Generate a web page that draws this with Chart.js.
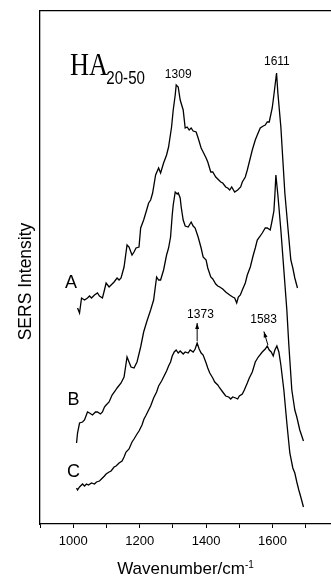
<!DOCTYPE html>
<html>
<head>
<meta charset="utf-8">
<script src="https://cdn.jsdelivr.net/npm/chart.js@4.4.1/dist/chart.umd.min.js"></script>
<style>
html, body { margin: 0; padding: 0; background: #fff; overflow: hidden; width: 331px; height: 577px; }
canvas { display: block; }
</style>
</head>
<body>
<canvas id="myChart" width="345" height="577"></canvas>
<script>
// spectrum A (top)
var waveA = [1013,1019,1025,1034,1043,1049,1055,1064,1073,1079,1088,1094,1099,1108,1114,1123,1132,1138,1144,1153,
	1162,1168,1177,1183,1189,1198,1203,1212,1221,1227,1233,1239,1248,1257,1263,1272,1281,1287,1296,1301,
	1307,1310,1316,1322,1331,1337,1343,1349,1355,1361,1370,1376,1385,1391,1400,1405,1414,1420,1429,1435,
	1444,1450,1459,1465,1471,1477,1486,1495,1504,1509,1518,1524,1530,1539,1548,1554,1563,1572,1578,1584,
	1590,1599,1604,1612,1616,1625,1631,1637,1646,1655,1661,1667,1675];
var intA = [43.2,42.2,45.2,44.8,45.2,45.6,45.2,45.8,46.2,45.6,45.2,46.8,48.2,47.4,47.8,48.4,49.2,48.8,49.2,51.4,
	55.8,55.4,53.8,54.4,55.2,55.4,59.2,60.8,62.8,64.2,64.8,66.2,69.8,71.2,70.2,72.2,73.8,75.4,79.4,82.8,
	85.8,87.8,87.4,84.8,82.8,79.2,79.4,78.8,79.2,78.6,78.4,77.2,75.2,74.4,73.2,72.4,70.4,70.4,69.4,69.0,
	68.4,68.2,67.4,67.2,66.8,67.4,66.4,66.8,67.4,68.4,69.4,70.8,72.4,74.8,76.8,77.8,79.2,79.6,79.8,80.4,
	80.4,83.2,85.8,90.2,86.2,79.4,72.8,66.2,59.4,52.8,51.2,49.2,47.2];

// spectrum B (middle)
var waveB = [1010,1013,1019,1028,1034,1043,1049,1058,1067,1073,1082,1088,1094,1099,1108,1117,1126,1132,1144,1153,
	1162,1168,1174,1183,1192,1203,1212,1221,1233,1242,1251,1257,1263,1272,1281,1287,1293,1298,1301,1307,
	1313,1316,1322,1325,1331,1337,1346,1355,1361,1367,1376,1385,1391,1400,1405,1414,1420,1429,1435,1441,
	1450,1459,1471,1480,1486,1492,1497,1503,1509,1518,1524,1533,1542,1548,1554,1563,1569,1578,1584,1593,
	1599,1604,1607,1610,1616,1625,1634,1643,1649,1658,1667,1673,1682,1693];
var intB = [16.2,18.2,20.2,20.4,20.8,22.4,22.2,21.8,22.4,22.4,22.0,22.4,23.4,23.8,24.4,25.8,26.6,27.2,28.2,29.4,
	33.4,32.4,31.4,31.2,32.4,35.4,38.4,40.4,42.8,44.8,49.4,48.8,48.8,50.8,53.8,55.2,57.4,61.8,63.8,66.4,
	66.0,66.2,65.2,63.4,60.8,59.6,59.4,60.4,59.6,59.2,57.4,55.2,53.4,52.8,51.2,49.4,49.0,48.0,47.6,47.4,
	47.0,46.4,45.8,45.4,45.2,44.2,45.4,45.8,46.8,48.2,49.8,51.4,53.8,55.2,56.8,57.6,58.2,59.2,59.2,58.8,
	60.8,62.6,65.8,69.8,65.8,58.8,50.8,42.8,35.8,26.8,22.8,21.4,18.8,16.6];

// spectrum C (bottom)
var waveC = [1010,1013,1019,1028,1034,1040,1046,1055,1064,1070,1079,1085,1094,1099,1108,1114,1123,1129,1138,1147,
	1153,1159,1168,1177,1183,1192,1198,1207,1213,1218,1227,1233,1242,1251,1257,1266,1272,1281,1287,1293,
	1298,1304,1310,1316,1322,1331,1337,1346,1352,1361,1367,1373,1379,1385,1391,1400,1405,1411,1420,1426,
	1435,1441,1450,1459,1468,1474,1480,1489,1495,1500,1509,1515,1524,1530,1539,1548,1557,1569,1578,1584,
	1590,1596,1602,1607,1613,1619,1625,1634,1643,1652,1661,1667,1673,1679,1685,1693];
var intC = [7.2,6.8,7.4,8.0,7.6,8.0,7.8,8.2,8.0,8.4,8.6,9.0,9.6,10.0,10.4,10.6,11.4,11.6,12.2,12.6,
	13.4,14.4,15.0,16.4,17.0,18.0,18.6,19.8,21.0,21.6,22.8,23.6,25.2,26.4,27.6,28.6,29.4,30.6,31.6,32.4,
	33.6,34.4,34.8,34.2,34.6,34.0,34.4,34.2,34.8,34.4,35.0,36.2,35.0,34.2,33.8,32.2,31.2,30.2,29.2,28.4,
	27.8,27.2,26.4,25.6,25.4,25.0,25.4,25.2,25.0,25.6,26.0,26.8,28.2,29.2,30.4,32.4,33.4,34.4,35.0,35.6,
	34.8,34.4,33.6,34.8,35.6,34.4,31.8,26.8,20.2,14.2,11.2,10.2,8.4,6.8,5.4,3.4];

// axis range and tick labels
var xMin = 900, xMax = 1800, xStep = 100;
var xLabels = [1000, 1200, 1400, 1600];
var yMin = 0, yMax = 102.6;

// text placed in data units
var peakText = ['1309', '1611', '1373', '1583'];
var peakX = [1316, 1613, 1383, 1573];
var peakY = [89.8, 92.4, 41.8, 40.8];
var arrowFromX = [1373, 1586], arrowFromY = [36.6, 35.8];
var arrowToX = [1373, 1574], arrowToY = [40.2, 38.5];
var curveText = ['A', 'B', 'C'];
var curveX = [993, 1001, 1001];
var curveY = [48.2, 24.8, 10.4];

var SANS = '"Liberation Sans", Arial, sans-serif';

function toPoints(xs, ys) {
	var pts = [];
	for (var i = 0; i < Math.min(xs.length, ys.length); i++) {
		pts.push({ x: xs[i], y: ys[i] });
	}
	return pts;
}

function lineSet(label, xs, ys) {
	return {
		label: label,
		data: toPoints(xs, ys),
		borderColor: '#000',
		borderWidth: 1.3,
		pointRadius: 0,
		fill: false,
		tension: 0
	};
}

var overlay = {
	id: 'overlay',
	afterDraw: function(chart) {
		var c = chart.ctx;
		var sx = chart.scales.x, sy = chart.scales.y;
		var area = chart.chartArea;
		var i;
		c.save();
		c.fillStyle = '#000';
		c.strokeStyle = '#000';

		// peak numbers
		c.font = '12px ' + SANS;
		c.textAlign = 'center';
		c.textBaseline = 'middle';
		for (i = 0; i < peakText.length; i++) {
			c.fillText(peakText[i], sx.getPixelForValue(peakX[i]), sy.getPixelForValue(peakY[i]));
		}

		// arrows
		c.lineWidth = 1;
		for (i = 0; i < arrowFromX.length; i++) {
			var x0 = sx.getPixelForValue(arrowFromX[i]), y0 = sy.getPixelForValue(arrowFromY[i]);
			var x1 = sx.getPixelForValue(arrowToX[i]), y1 = sy.getPixelForValue(arrowToY[i]);
			var a = Math.atan2(y1 - y0, x1 - x0);
			c.beginPath();
			c.moveTo(x0, y0);
			c.lineTo(x1, y1);
			c.stroke();
			c.beginPath();
			c.moveTo(x1, y1);
			c.lineTo(x1 - 6 * Math.cos(a) + 2 * Math.sin(a), y1 - 6 * Math.sin(a) - 2 * Math.cos(a));
			c.lineTo(x1 - 6 * Math.cos(a) - 2 * Math.sin(a), y1 - 6 * Math.sin(a) + 2 * Math.cos(a));
			c.closePath();
			c.fill();
		}

		// A, B, C
		c.font = '18px ' + SANS;
		for (i = 0; i < curveText.length; i++) {
			c.fillText(curveText[i], sx.getPixelForValue(curveX[i]), sy.getPixelForValue(curveY[i]));
		}

		// HA20-50
		c.textAlign = 'left';
		c.textBaseline = 'alphabetic';
		var hx = sx.getPixelForValue(990), hy = sy.getPixelForValue(89.8);
		c.save();
		c.translate(hx, hy);
		c.scale(0.85, 1);
		c.font = '31px "Liberation Serif", "Times New Roman", serif';
		c.fillText('HA', 0, 0);
		c.restore();
		var bx = sx.getPixelForValue(1099.5), by = sy.getPixelForValue(88);
		c.save();
		c.translate(bx, by);
		c.scale(0.84, 1);
		c.font = '18px ' + SANS;
		c.fillText('20-50', 0, 0);
		c.restore();

		// x axis title
		c.font = '17px ' + SANS;
		var main = 'Wavenumber/cm';
		var w1 = c.measureText(main).width;
		c.font = '10px ' + SANS;
		var w2 = c.measureText('-1').width;
		var tx = (area.left + area.right) / 2 - 4 - (w1 + w2) / 2;
		c.font = '17px ' + SANS;
		c.fillText(main, tx, 574);
		c.font = '10px ' + SANS;
		c.fillText('-1', tx + w1, 568);

		// y axis title
		c.save();
		c.translate(26, (area.top + area.bottom) / 2 + 14);
		c.rotate(-Math.PI / 2);
		c.textAlign = 'center';
		c.textBaseline = 'middle';
		c.font = '17.5px ' + SANS;
		c.fillText('SERS Intensity', 0, 0);
		c.restore();

		c.restore();
	}
};

var ctx = document.getElementById('myChart');

var chart = new Chart(ctx, {
	type: 'line',
	data: {
		datasets: [
			lineSet('A', waveA, intA),
			lineSet('B', waveB, intB),
			lineSet('C', waveC, intC)
		]
	},
	options: {
		responsive: false,
		animation: false,
		devicePixelRatio: 1,
		layout: { padding: { top: 11, right: 2, left: 0, bottom: 0 } },
		plugins: {
			legend: { display: false },
			tooltip: { enabled: false }
		},
		scales: {
			x: {
				type: 'linear',
				position: 'bottom',
				min: xMin,
				max: xMax,
				afterFit: function(s) { s.height = 53; },
				border: { display: true, color: '#000', width: 1.3 },
				grid: { drawOnChartArea: false, tickLength: 4, color: '#000', lineWidth: 1 },
				ticks: {
					stepSize: xStep,
					autoSkip: false,
					maxRotation: 0,
					padding: 6,
					color: '#000',
					font: { family: SANS, size: 13 },
					callback: function(v) { return xLabels.indexOf(v) >= 0 ? String(v) : ''; }
				}
			},
			xTop: {
				type: 'linear',
				position: 'top',
				min: xMin,
				max: xMax,
				afterFit: function(s) { s.height = 0; },
				border: { display: true, color: '#000', width: 1.3 },
				grid: { display: false },
				ticks: { display: false }
			},
			y: {
				type: 'linear',
				min: yMin,
				max: yMax,
				afterFit: function(s) { s.width = 40; },
				border: { display: true, color: '#000', width: 1.3 },
				grid: { display: false },
				ticks: { display: false }
			}
		}
	},
	plugins: [overlay]
});
</script>
</body>
</html>
